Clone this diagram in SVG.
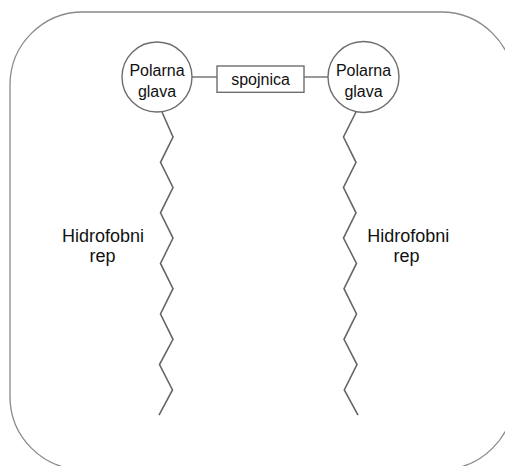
<svg xmlns="http://www.w3.org/2000/svg" width="505" height="466" viewBox="0 0 505 466">
  <style>
    .frame { fill: none; stroke: #8a8a8a; stroke-width: 1.3; }
    .head { fill: #ffffff; stroke: #6e6e6e; stroke-width: 1.4; }
    .box { fill: #ffffff; stroke: #6e6e6e; stroke-width: 1.4; }
    .link { fill: none; stroke: #6e6e6e; stroke-width: 1.4; }
    .tail { fill: none; stroke: #666666; stroke-width: 1.6; stroke-linejoin: miter; }
    text { font-family: "Liberation Sans", Arial, sans-serif; fill: #111111; text-anchor: middle; }
    .t16 { font-size: 16px; }
    .t18 { font-size: 18px; }
  </style>
  <rect class="frame" x="10" y="12" width="504" height="457.5" rx="73" ry="73"/>
  <g id="connectors">
    <line class="link" x1="192" y1="77" x2="217" y2="77"/>
    <line class="link" x1="304" y1="77" x2="328" y2="77"/>
    <polyline class="tail" points="162,112 173,137 160.5,162.3 173,187.5 160.5,212.8 173,238.1 160.5,263.4 173,288.7 160.5,314 173,339.3 159.5,364.6 172.5,389.9 159,415.2"/>
    <polyline class="tail" points="356,112 343.5,137 356,162.3 343.5,187.5 356,212.8 343.5,238.1 356.5,263.4 344,288.7 356.5,314 344,339.3 357,364.6 344.3,389.9 358,415.2"/>
  </g>
  <g id="head-left">
    <circle class="head" cx="157" cy="77" r="35"/>
    <text class="t16" x="157" y="75.7">Polarna</text>
    <text class="t16" x="157" y="96.7">glava</text>
  </g>
  <g id="spojnica">
    <rect class="box" x="217" y="66" width="87" height="26.3"/>
    <text class="t16" x="260.5" y="84.7">spojnica</text>
  </g>
  <g id="head-right">
    <circle class="head" cx="363.5" cy="77" r="35.5"/>
    <text class="t16" x="363.5" y="75.7">Polarna</text>
    <text class="t16" x="363.5" y="96.7">glava</text>
  </g>
  <g id="label-left">
    <text class="t18" x="103" y="241.7">Hidrofobni</text>
    <text class="t18" x="102.5" y="261.7">rep</text>
  </g>
  <g id="label-right">
    <text class="t18" x="408.3" y="241.7">Hidrofobni</text>
    <text class="t18" x="406.5" y="261.7">rep</text>
  </g>
</svg>
